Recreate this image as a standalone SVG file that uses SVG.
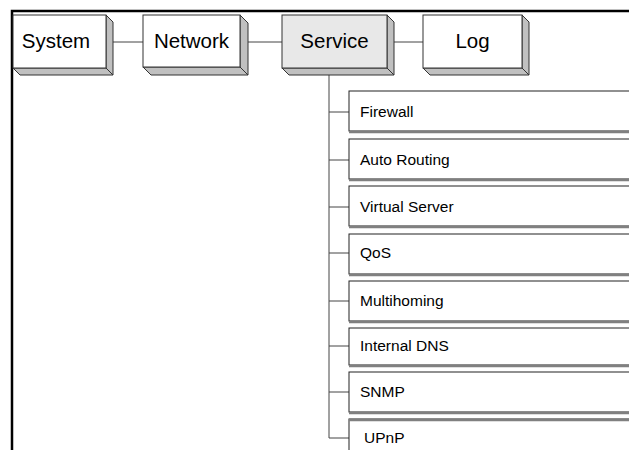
<svg xmlns="http://www.w3.org/2000/svg" width="629" height="450" viewBox="0 0 629 450">
<style>
.frame{stroke:#000;stroke-width:2.5;fill:none}
.front{fill:#fff;stroke:#333;stroke-width:1}
.front.sel{fill:#e8e8e8}
.ext{fill:#c0c0c0;stroke:#333;stroke-width:1;stroke-linejoin:round}
.top{font-family:"Liberation Sans",Arial,sans-serif;font-size:20.5px;fill:#000;text-anchor:middle}
.child rect.b{fill:#fff;stroke:#222;stroke-width:1}
.child line.sh{stroke:#808080;stroke-width:2.5}
.lbl{font-family:"Liberation Sans",Arial,sans-serif;font-size:15.5px;fill:#000}
.conn{stroke:#444;stroke-width:1;fill:none}
</style>
<rect width="629" height="450" fill="#fff"/>
<path class="frame" d="M12 450 V11 H629"/>
<g id="connectors">
<line class="conn" x1="113" y1="42" x2="143" y2="42"/>
<line class="conn" x1="248" y1="42" x2="282" y2="42"/>
<line class="conn" x1="394" y1="42" x2="423" y2="42"/>
<path class="conn" d="M329 75 V438 H349"/>
<line class="conn" x1="329" y1="112" x2="349" y2="112"/>
<line class="conn" x1="329" y1="160" x2="349" y2="160"/>
<line class="conn" x1="329" y1="207" x2="349" y2="207"/>
<line class="conn" x1="329" y1="253" x2="349" y2="253"/>
<line class="conn" x1="329" y1="301" x2="349" y2="301"/>
<line class="conn" x1="329" y1="346" x2="349" y2="346"/>
<line class="conn" x1="329" y1="392" x2="349" y2="392"/>
</g>
<g id="system">
<path class="ext" d="M106 15 L113 22 L113 75 L106 68 Z"/>
<path class="ext" d="M13 68 L20 75 L113 75 L106 68 Z"/>
<rect class="front" x="13" y="15" width="93" height="53"/>
<text class="top" x="56" y="48">System</text>
</g>
<g id="network">
<path class="ext" d="M240 15 L248 23 L248 75 L240 67 Z"/>
<path class="ext" d="M143 67 L151 75 L248 75 L240 67 Z"/>
<rect class="front" x="143" y="15" width="97" height="52"/>
<text class="top" x="191.5" y="48">Network</text>
</g>
<g id="service">
<path class="ext" d="M387 15 L394 22 L394 75 L387 68 Z"/>
<path class="ext" d="M282 68 L289 75 L394 75 L387 68 Z"/>
<rect class="front sel" x="282" y="15" width="105" height="53"/>
<text class="top" x="334.5" y="48">Service</text>
</g>
<g id="log">
<path class="ext" d="M522 15 L529 22 L529 75 L522 68 Z"/>
<path class="ext" d="M423 68 L430 75 L529 75 L522 68 Z"/>
<rect class="front" x="423" y="15" width="99" height="53"/>
<text class="top" x="472.5" y="48">Log</text>
</g>
<g id="firewall" class="child"><rect class="b" x="349" y="91" width="300" height="40"/><line class="sh" x1="349" y1="132" x2="629" y2="132"/><text class="lbl" x="360" y="117">Firewall</text></g>
<g id="auto-routing" class="child"><rect class="b" x="349" y="139" width="300" height="40"/><line class="sh" x1="349" y1="180" x2="629" y2="180"/><text class="lbl" x="360" y="165">Auto Routing</text></g>
<g id="virtual-server" class="child"><rect class="b" x="349" y="186" width="300" height="40"/><line class="sh" x1="349" y1="227" x2="629" y2="227"/><text class="lbl" x="360" y="212">Virtual Server</text></g>
<g id="qos" class="child"><rect class="b" x="349" y="234" width="300" height="40"/><line class="sh" x1="349" y1="275" x2="629" y2="275"/><text class="lbl" x="360" y="258">QoS</text></g>
<g id="multihoming" class="child"><rect class="b" x="349" y="281" width="300" height="40"/><line class="sh" x1="349" y1="322" x2="629" y2="322"/><text class="lbl" x="360" y="306">Multihoming</text></g>
<g id="internal-dns" class="child"><rect class="b" x="349" y="328" width="300" height="37"/><line class="sh" x1="349" y1="366" x2="629" y2="366"/><text class="lbl" x="360" y="351">Internal DNS</text></g>
<g id="snmp" class="child"><rect class="b" x="349" y="372" width="300" height="40"/><line class="sh" x1="349" y1="413" x2="629" y2="413"/><text class="lbl" x="360" y="397">SNMP</text></g>
<g id="upnp" class="child"><rect class="b" x="349" y="419" width="300" height="60"/><line class="sh" x1="349" y1="420" x2="629" y2="420" stroke-width="1"/><text class="lbl" x="364" y="443">UPnP</text></g>
</svg>
